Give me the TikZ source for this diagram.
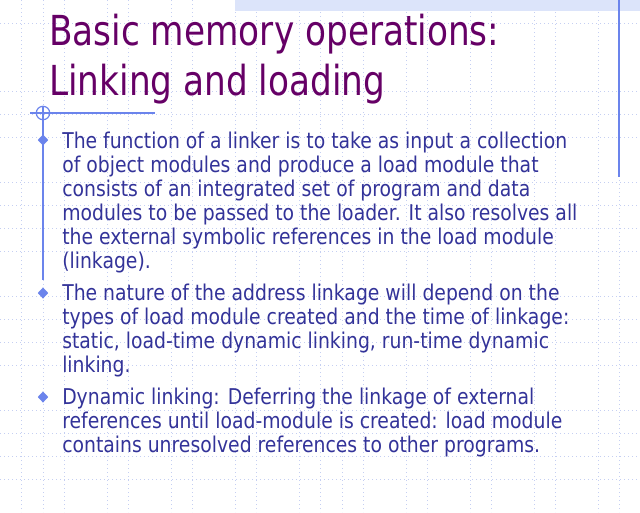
\documentclass[tikz,border=0pt]{standalone}
\usepackage{fontspec}
\setmainfont{DejaVu Sans}[FakeStretch=0.865]
\newfontfamily\headfont{DejaVu Sans}[FakeStretch=0.83]
\usetikzlibrary{shapes.geometric}
\definecolor{slidetitle}{HTML}{660066}
\definecolor{slidetext}{HTML}{333399}
\definecolor{slideline}{HTML}{6B84EC}
\definecolor{slidegrid}{HTML}{C5CFF2}
\definecolor{slideband}{HTML}{DCE4FA}

\begin{document}
\begin{tikzpicture}[x=0.75pt, y=-0.75pt,
    gridline/.style={slidegrid, line width=0.75pt, dash pattern=on 0.75pt off 2.25pt},
    rule/.style={slideline, line width=0.9pt},
    titletext/.style={slidetitle, font=\headfont\fontsize{31}{36}\selectfont, anchor=base west, inner sep=0pt},
    bodytext/.style={slidetext, font=\fontsize{16.3}{18}\selectfont, anchor=base west, inner sep=0pt},
    bulletmark/.style={diamond, fill=slideline, inner sep=0pt, minimum width=8pt, minimum height=8.5pt}]
    \useasboundingbox (0,0) rectangle (640,512);
    \fill[white] (0,0) rectangle (640,512);
    % background grid
    \foreach \gx in {21.7,43.3,64.3,107.3,128.3,171.7,192.3,235.3,256.3,299.3,320.5,342.3,363.3,406.3,427.3,470.3,491.3,534.3,555.3,598.3,619.3}
      \draw[gridline] (\gx,0) -- (\gx,512);
    \foreach \gy in {23,91,114,137,182.5,205.3,228.3,251,296.3,319.3,342.3,365,410.3,433.3,456.2,479}
      \draw[gridline] (0,\gy) -- (640,\gy);
    \fill[slideband] (235,0) rectangle (640,11);
    % rules
    \draw[rule] (619,0) -- (619,177);
    \draw[rule] (30,113) -- (155,113);
    \draw[rule] (43,106) -- (43,280);
    \draw[rule] (43,113) circle[radius=6.7];
    % title
    \node[titletext] (t1) at (49,45) {Basic memory operations:};
    \node[titletext] (t2) at (49,95) {Linking and loading};
    % bullets
    \node[bulletmark] (d1) at (43,140) {};
    \node[bulletmark] (d2) at (43,293) {};
    \node[bulletmark] (d3) at (43,397) {};
    \foreach \txt [count=\i] in {The function of a linker is to take as input a collection,
        of object modules and produce a load module that,
        consists of an integrated set of program and data,
        modules to be passed to the loader. It also resolves all,
        the external symbolic references in the load module,
        (linkage).}
      \node[bodytext] (pa\i) at (62,{148+24*(\i-1)}) {\txt};
    \foreach \txt [count=\i] in {The nature of the address linkage will depend on the,
        types of load module created and the time of linkage:,
        {static, load-time dynamic linking, run-time dynamic},
        linking.}
      \node[bodytext] (pb\i) at (62,{300+24*(\i-1)}) {\txt};
    \foreach \txt [count=\i] in {Dynamic linking: Deferring the linkage of external,
        references until load-module is created: load module,
        contains unresolved references to other programs.}
      \node[bodytext] (pc\i) at (62,{404+24*(\i-1)}) {\txt};
  \end{tikzpicture}
\end{document}
